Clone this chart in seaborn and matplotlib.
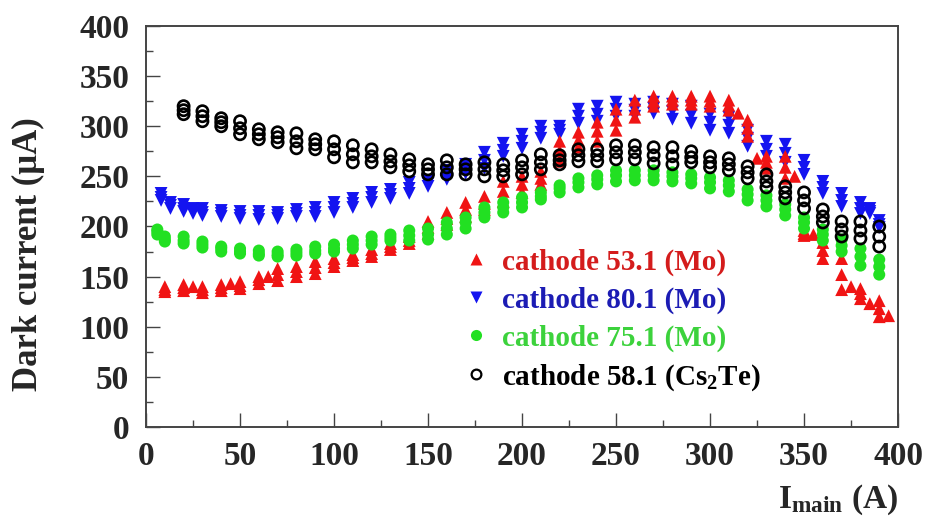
import matplotlib
matplotlib.use("Agg")
import pandas as pd
import matplotlib.pyplot as plt
import seaborn as sns
from matplotlib.lines import Line2D
from matplotlib.ticker import MultipleLocator

# Data (three readings per current setting)
red_x = [10, 20, 30, 40, 50, 60, 70, 80, 90, 100, 110, 120, 130, 140, 150, 160, 170, 180, 190, 200,
         210, 220, 230, 240, 250, 260, 270, 280, 290, 300, 310, 320, 330, 340, 350, 360, 370, 380, 390]
red_lo = [135, 136, 134, 136, 138, 143, 146, 150, 153, 160, 166, 170, 177, 183, 193, 202, 210, 217, 225, 234,
          242, 265, 279, 285, 296, 309, 320, 322, 322, 320, 316, 290, 258, 248, 191, 168, 137, 128, 110]
red_mid = [137, 139, 137, 139, 141, 147, 152, 155, 159, 164, 169, 173, 180, 186, 199, 208, 217, 223, 235, 242,
           248, 275, 286, 295, 306, 317, 325, 326, 326, 325, 321, 298, 264, 259, 193, 176, 152, 133, 118]
red_hi = [140, 142, 140, 142, 145, 150, 158, 160, 165, 168, 172, 177, 183, 190, 205, 214, 224, 230, 245, 250,
          255, 285, 294, 304, 317, 326, 330, 330, 330, 330, 326, 306, 270, 270, 196, 184, 168, 138, 126]
red_x2 = [25, 45, 65, 315, 325, 345, 355, 375, 385, 395]
red_y2 = [140, 143, 150, 313, 268, 250, 192, 140, 123, 111]

blue_x = [8, 13, 20, 25, 30, 40, 50, 60, 70, 80, 90, 100, 110, 120, 130, 140, 150, 160, 170, 180, 190,
          200, 210, 220, 230, 240, 250, 260, 270, 280, 290, 300, 310, 320, 330, 340, 350, 360, 370, 380, 385, 390]
blue_lo = [226, 218, 215, 213, 211, 210, 208, 207, 208, 210, 210, 214, 219, 224, 228, 233, 240, 247, 253, 258, 270,
           278, 288, 292, 303, 305, 310, 310, 313, 307, 303, 296, 293, 280, 270, 264, 252, 233, 220, 213, 213, 199]
blue_mid = [229, 221, 218, 215, 214, 213, 211, 211, 211, 213, 214, 219, 223, 229, 232, 238, 243, 251, 257, 266, 276,
            285, 294, 296, 310, 312, 317, 316, 318, 315, 311, 304, 301, 288, 277, 273, 259, 239, 226, 218, 215, 202]
blue_hi = [233, 224, 222, 218, 218, 216, 215, 215, 214, 217, 219, 224, 228, 234, 237, 244, 246, 256, 262, 274, 283,
           292, 300, 300, 317, 320, 324, 322, 324, 322, 320, 312, 309, 296, 285, 282, 266, 245, 233, 224, 218, 206]

green_x = [6, 10, 20, 30, 40, 50, 60, 70, 80, 90, 100, 110, 120, 130, 140, 150, 160, 170, 180, 190,
           200, 210, 220, 230, 240, 250, 260, 270, 280, 290, 300, 310, 320, 330, 340, 350, 360, 370, 380, 390]
green_lo = [192, 185, 183, 179, 175, 173, 171, 170, 171, 173, 175, 178, 182, 186, 186, 187, 192, 198, 209, 214,
            219, 227, 234, 239, 242, 245, 246, 246, 245, 243, 238, 235, 226, 220, 211, 198, 186, 175, 161, 152]
green_mid = [195, 187, 186, 182, 178, 175, 173, 172, 174, 176, 178, 182, 186, 189, 191, 192, 198, 204, 214, 219,
             224, 230, 238, 244, 247, 251, 251, 251, 250, 248, 244, 241, 232, 226, 217, 204, 192, 181, 170, 160]
green_hi = [197, 190, 190, 185, 180, 178, 176, 175, 177, 180, 182, 186, 190, 192, 196, 198, 204, 209, 219, 224,
            229, 234, 241, 248, 251, 256, 256, 256, 254, 252, 249, 246, 237, 231, 222, 209, 197, 187, 178, 167]

black_x = [20, 30, 40, 50, 60, 70, 80, 90, 100, 110, 120, 130, 140, 150, 160, 170, 180, 190, 200,
           210, 220, 230, 240, 250, 260, 270, 280, 290, 300, 310, 320, 330, 340, 350, 360, 370, 380, 390]
black_lo = [312, 305, 300, 292, 287, 284, 278, 277, 269, 264, 264, 259, 255, 252, 252, 252, 250, 250, 252,
            257, 262, 265, 265, 267, 267, 263, 262, 264, 259, 256, 248, 239, 228, 218, 204, 190, 188, 180]
black_mid = [316, 310, 304, 298, 292, 289, 285, 282, 277, 272, 270, 265, 261, 257, 259, 257, 257, 256, 259,
             264, 266, 271, 271, 274, 274, 271, 270, 269, 264, 262, 254, 245, 234, 226, 210, 197, 196, 190]
black_hi = [320, 315, 308, 305, 297, 294, 293, 287, 285, 281, 277, 272, 267, 262, 266, 262, 264, 262, 266,
            272, 271, 277, 277, 281, 281, 279, 279, 275, 270, 268, 260, 252, 240, 234, 217, 205, 205, 200]

labels = ["cathode 53.1 (Mo)", "cathode 80.1 (Mo)", "cathode 75.1 (Mo)", "cathode 58.1 (Cs$_2$Te)"]


def frame(x, *ys):
    return pd.DataFrame({"I": list(x) * len(ys), "dc": [v for y in ys for v in y]})


sns.set_style("ticks")
plt.rcParams["font.family"] = ["Liberation Serif", "DejaVu Serif"]
plt.rcParams["font.weight"] = "bold"
plt.rcParams["axes.labelweight"] = "bold"
plt.rcParams["mathtext.fontset"] = "custom"
plt.rcParams["mathtext.rm"] = "Liberation Serif:bold"
plt.rcParams["mathtext.it"] = "Liberation Serif:bold"
plt.rcParams["mathtext.bf"] = "Liberation Serif:bold"

RED, BLUE, GREEN = "#f01414", "#1414f0", "#22e022"

fig = plt.figure(figsize=(9.26, 5.26), dpi=100)
ax = fig.add_axes([0.1577, 0.1882, 0.8121, 0.7624])

sns.scatterplot(data=frame(blue_x, blue_lo, blue_mid, blue_hi), x="I", y="dc", marker="v",
                s=85, color=BLUE, edgecolor="none", ax=ax)
sns.scatterplot(data=frame(red_x, red_lo, red_mid, red_hi), x="I", y="dc", marker="^",
                s=85, color=RED, edgecolor="none", ax=ax)
sns.scatterplot(data=pd.DataFrame({"I": red_x2, "dc": red_y2}), x="I", y="dc", marker="^",
                s=85, color=RED, edgecolor="none", ax=ax)
sns.scatterplot(data=frame(green_x, green_lo, green_mid, green_hi), x="I", y="dc", marker="o",
                s=75, color=GREEN, edgecolor="none", ax=ax)
sns.scatterplot(data=frame(black_x, black_lo, black_mid, black_hi), x="I", y="dc", marker="o",
                s=65, facecolors="none", edgecolors="black", linewidth=1.9, ax=ax)

ax.set_xlim(0, 400)
ax.set_ylim(0, 400)
ax.xaxis.set_major_locator(MultipleLocator(50))
ax.xaxis.set_minor_locator(MultipleLocator(25))
ax.yaxis.set_major_locator(MultipleLocator(50))
ax.yaxis.set_minor_locator(MultipleLocator(25))
ax.tick_params(which="both", direction="in", color="#444444", width=1, labelsize=24)
ax.tick_params(which="major", length=10)
ax.tick_params(which="minor", length=5)
ax.tick_params(axis="x", pad=10)
ax.tick_params(axis="y", pad=12)
for sp in ax.spines.values():
    sp.set_visible(True)
    sp.set_color("#444444")
    sp.set_linewidth(1.4)

ax.set_xlabel("I$_{\\rm main}$ (A)", fontsize=24, fontweight="bold", loc="right", labelpad=8)
ax.set_ylabel("Dark current (\u03bcA)", fontsize=25, fontweight="bold")
ax.yaxis.set_label_coords(-0.134, 0.43)

handles = [
    Line2D([], [], ls="none", marker="^", ms=8, color=RED, mec="none"),
    Line2D([], [], ls="none", marker="v", ms=8, color=BLUE, mec="none"),
    Line2D([], [], ls="none", marker="o", ms=8, color=GREEN, mec="none"),
    Line2D([], [], ls="none", marker="o", ms=7, mfc="none", mec="black", mew=1.6),
]
leg = ax.legend(handles, labels, loc="center left", bbox_to_anchor=(0.40, 0.265), frameon=False,
                fontsize=21, handlelength=1.0, handletextpad=0.4, labelspacing=0.36, borderpad=0)
for txt, c in zip(leg.get_texts(), ["#d41c1c", "#1c1cb4", "#3cd23c", "black"]):
    txt.set_color(c)

fig.savefig("out.png", dpi=100)
